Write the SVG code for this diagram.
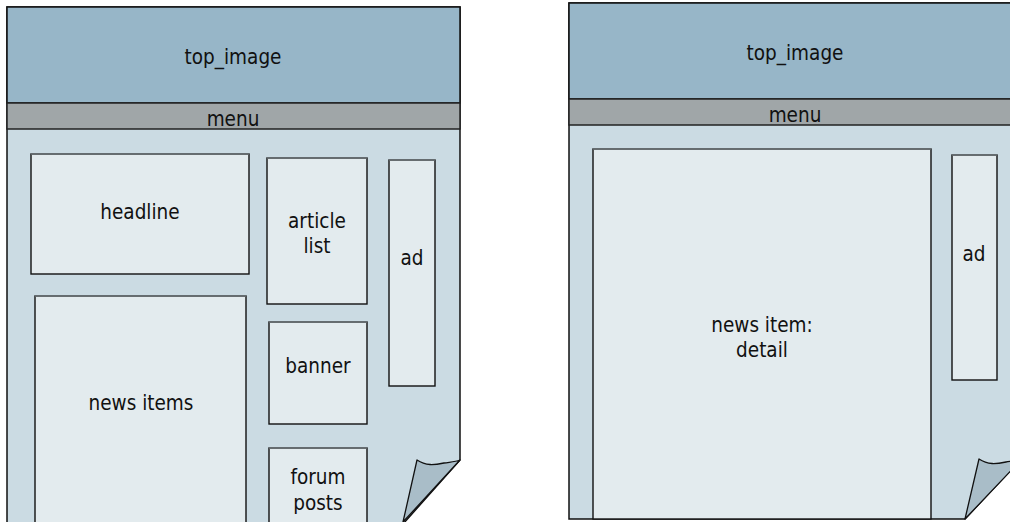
<svg xmlns="http://www.w3.org/2000/svg" width="1010" height="522" viewBox="0 0 1010 522">
  <style>
    .page { fill: #cbdbe3; stroke: #111; stroke-width: 1.5; }
    .top { fill: #97b6c8; stroke: #111; stroke-width: 1.5; }
    .menu { fill: #a0a6a8; stroke: #222; stroke-width: 1.5; }
    .box { fill: #e3ebee; stroke: #111; stroke-width: 1.4; }
    .edge { stroke: #6f777b; stroke-width: 1.6; }
    .flap { fill: #a9bdc8; stroke: #111; stroke-width: 1.3; stroke-linejoin: round; }
    text { font-family: "DejaVu Sans Condensed", "DejaVu Sans", Verdana, sans-serif; font-stretch: condensed; font-size: 20.5px; fill: #111; text-anchor: middle; }
  </style>
  <rect width="1010" height="522" fill="#ffffff"/>

  <!-- left page: home layout -->
  <g id="page-home">
    <path class="page" d="M7,7 H460 V460 L403,524 H7 Z"/>
    <path class="flap" d="M417,460 C426,466 434,465 444,463 C450,462 455,462 460,460 L403,522 Z"/>
    <g id="home-top_image">
      <rect class="top" x="7" y="7" width="453" height="96"/>
      <text x="233" y="64">top_image</text>
    </g>
    <g id="home-menu">
      <rect class="menu" x="7" y="103" width="453" height="26"/>
      <text x="233" y="126">menu</text>
    </g>
    <g id="home-headline">
      <rect class="box" x="31" y="154" width="218" height="120"/>
      <line class="edge" x1="31" y1="154" x2="249" y2="154"/>
      <text x="140" y="219">headline</text>
    </g>
    <g id="home-news-items">
      <rect class="box" x="35" y="296" width="211" height="240"/>
      <line class="edge" x1="35" y1="296" x2="246" y2="296"/>
      <text x="141" y="410">news items</text>
    </g>
    <g id="home-article-list">
      <rect class="box" x="267" y="158" width="100" height="146"/>
      <line class="edge" x1="267" y1="158" x2="367" y2="158"/>
      <text x="317" y="228">article</text>
      <text x="317" y="253">list</text>
    </g>
    <g id="home-banner">
      <rect class="box" x="269" y="322" width="98" height="102"/>
      <line class="edge" x1="269" y1="322" x2="367" y2="322"/>
      <text x="318" y="373">banner</text>
    </g>
    <g id="home-forum-posts">
      <rect class="box" x="269" y="448" width="98" height="90"/>
      <line class="edge" x1="269" y1="448" x2="367" y2="448"/>
      <text x="318" y="484">forum</text>
      <text x="318" y="510">posts</text>
    </g>
    <g id="home-ad">
      <rect class="box" x="389" y="160" width="46" height="226"/>
      <line class="edge" x1="389" y1="160" x2="435" y2="160"/>
      <text x="412" y="265">ad</text>
    </g>
  </g>

  <!-- right page: article detail layout -->
  <g id="page-detail">
    <path class="page" d="M569,3 H1022 V458 L965,519 H569 Z"/>
    <path class="flap" d="M979,459 C988,465 996,464 1006,462 C1012,461 1017,461 1022,459 L965,519 Z"/>
    <g id="detail-top_image">
      <rect class="top" x="569" y="3" width="453" height="96"/>
      <text x="795" y="60">top_image</text>
    </g>
    <g id="detail-menu">
      <rect class="menu" x="569" y="99" width="453" height="26"/>
      <text x="795" y="122">menu</text>
    </g>
    <g id="detail-news-item">
      <rect class="box" x="593" y="149" width="338" height="370"/>
      <line class="edge" x1="593" y1="149" x2="931" y2="149"/>
      <text x="762" y="332">news item:</text>
      <text x="762" y="357">detail</text>
    </g>
    <g id="detail-ad">
      <rect class="box" x="952" y="155" width="45" height="225"/>
      <line class="edge" x1="952" y1="155" x2="997" y2="155"/>
      <text x="974" y="261">ad</text>
    </g>
  </g>
</svg>
